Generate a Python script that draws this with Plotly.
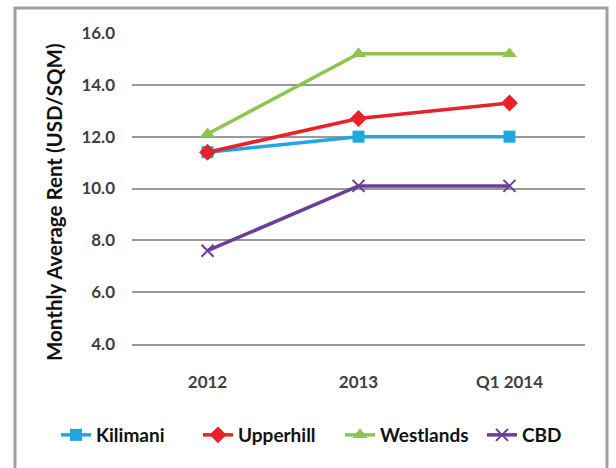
import plotly.graph_objects as go

categories = ["2012", "2013", "Q1 2014"]
kilimani = [11.4, 12.0, 12.0]
upperhill = [11.4, 12.7, 13.3]
westlands = [12.1, 15.2, 15.2]
cbd = [7.6, 10.1, 10.1]
y_ticks = [4, 6, 8, 10, 12, 14, 16]
y_tick_labels = ["4.0", "6.0", "8.0", "10.0", "12.0", "14.0", "16.0"]

series = [
    ("Kilimani", kilimani, "#20a7e0", "square", 12),
    ("Upperhill", upperhill, "#e8212b", "diamond", 13),
    ("Westlands", westlands, "#8dc54e", "triangle-up", 13),
    ("CBD", cbd, "#6b3c98", "x-thin", 12),
]

fig = go.Figure()
for name, vals, color, sym, sz in series:
    marker = dict(symbol=sym, size=sz, color=color, line=dict(width=2 if sym == "x-thin" else 0, color=color))
    fig.add_trace(go.Scatter(
        x=categories, y=vals, name=name, mode="lines+markers",
        line=dict(color=color, width=3.5), marker=marker,
    ))

ff = "Lato, 'Open Sans', sans-serif"
L, R, T, B = 132, 31, 33, 124
W, H = 616, 468
pw, ph = W - L - R, H - T - B

def px_x(x):
    return (x - L) / pw

def px_y(y):
    return (H - B - y) / ph

fig.update_layout(
    width=W, height=H,
    margin=dict(l=L, r=R, t=T, b=B, autoexpand=False),
    paper_bgcolor="white", plot_bgcolor="white",
    font=dict(family=ff, size=17, color="#404040"),
    showlegend=True,
    legend=dict(orientation="h", xref="paper", yref="paper",
                x=px_x(56), xanchor="left", y=px_y(435), yanchor="middle",
                font=dict(size=19, color="#111111", family=ff, weight="bold"),
                entrywidth=97, entrywidthmode="pixels",
                bgcolor="rgba(0,0,0,0)"),
    xaxis=dict(type="category", range=[-0.5, 2.5], showgrid=False, showline=True,
               linecolor="#999999", linewidth=2, ticks="",
               tickfont=dict(size=17, color="#404040", family=ff, weight="bold"),
               ticklabelstandoff=22),
    yaxis=dict(range=[4, 16], tickvals=y_ticks, ticktext=y_tick_labels, showgrid=True,
               gridcolor="#999999", gridwidth=1.5, zeroline=False, showline=False, ticks="",
               tickfont=dict(size=17, color="#404040", family=ff, weight="bold"),
               ticklabelstandoff=16),
    annotations=[dict(text="<b>Monthly Average Rent (USD/SQM)</b>", textangle=-90,
                      xref="paper", yref="paper", x=px_x(54), y=px_y(202),
                      xanchor="center", yanchor="middle", showarrow=False,
                      font=dict(size=20.5, color="#111111", family=ff))],
    shapes=[dict(type="rect", xref="paper", yref="paper",
                 x0=px_x(15), x1=px_x(607), y0=px_y(471), y1=px_y(8),
                 line=dict(color="#a0a0a0", width=3), fillcolor="rgba(0,0,0,0)", layer="below")],
)

fig.write_html("out.html", config={"displayModeBar": False},
               post_script="document.body.style.margin='0';document.body.style.padding='0';")
